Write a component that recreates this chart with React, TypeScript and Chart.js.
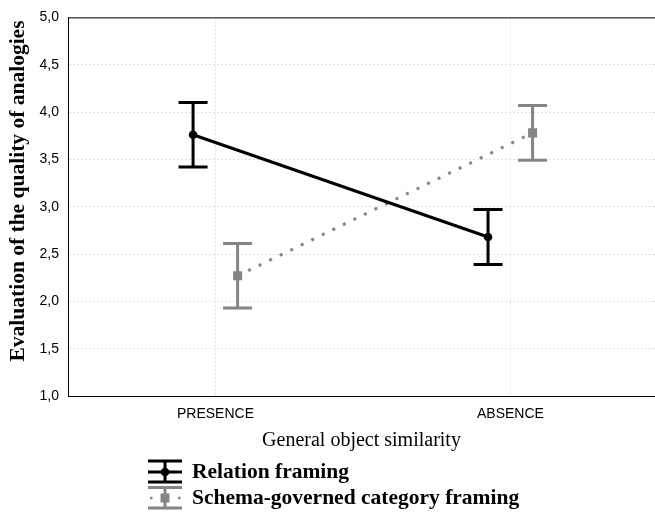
import { useEffect, useRef } from 'react';
import { Chart, registerables } from 'chart.js';

Chart.register(...registerables);

const categories = ['PRESENCE', 'ABSENCE'];
const seriesNames = ['Relation framing', 'Schema-governed category framing'];
const relationMean = [3.76, 2.68];
const relationLow = [3.42, 2.39];
const relationHigh = [4.1, 2.97];
const schemaMean = [2.27, 3.78];
const schemaLow = [1.93, 3.49];
const schemaHigh = [2.61, 4.07];
const seriesOffset = [-0.076, 0.075];
const xTitle = 'General object similarity';
const yTitle = 'Evaluation of the quality of analogies';

const BLACK = '#000000';
const GRAY = '#858585';
const GRID = 'rgba(0,0,0,0.12)';
const SERIF = '"Liberation Serif", "Times New Roman", serif';
const SANS = '"Liberation Sans", Arial, sans-serif';

const means = [relationMean, schemaMean];
const lows = [relationLow, schemaLow];
const highs = [relationHigh, schemaHigh];
const colors = [BLACK, GRAY];

const errorBarPlugin = {
  id: 'errorBars',
  beforeDatasetsDraw(chart: any) {
    const ctx = chart.ctx;
    const xs = chart.scales.x;
    const ys = chart.scales.y;
    ctx.save();
    means.forEach((_m, s) => {
      ctx.strokeStyle = colors[s];
      ctx.lineWidth = 3;
      categories.forEach((_c, i) => {
        const px = xs.getPixelForValue(i + seriesOffset[s]);
        const top = ys.getPixelForValue(highs[s][i]);
        const bot = ys.getPixelForValue(lows[s][i]);
        ctx.beginPath();
        ctx.moveTo(px, top);
        ctx.lineTo(px, bot);
        ctx.moveTo(px - 14.5, top);
        ctx.lineTo(px + 14.5, top);
        ctx.moveTo(px - 14.5, bot);
        ctx.lineTo(px + 14.5, bot);
        ctx.stroke();
      });
    });
    ctx.restore();
  },
  afterDraw(chart: any) {
    const ctx = chart.ctx;
    const area = chart.chartArea;
    ctx.save();
    // top frame line
    ctx.strokeStyle = BLACK;
    ctx.lineWidth = 1;
    ctx.beginPath();
    ctx.moveTo(area.left, area.top + 0.5);
    ctx.lineTo(area.right, area.top + 0.5);
    ctx.stroke();

    // y title
    ctx.fillStyle = BLACK;
    ctx.font = 'bold 21.5px ' + SERIF;
    ctx.textAlign = 'center';
    ctx.textBaseline = 'middle';
    ctx.save();
    ctx.translate(18, 191);
    ctx.rotate(-Math.PI / 2);
    ctx.fillText(yTitle, 0, 0);
    ctx.restore();

    // x title
    ctx.font = '20px ' + SERIF;
    ctx.fillText(xTitle, (area.left + area.right) / 2, 441);

    // legend
    const ix = 165;
    const rows = [
      { y: 472, top: 461, bot: 482 },
      { y: 498, top: 487.5, bot: 508 },
    ];
    rows.forEach((r, s) => {
      ctx.strokeStyle = colors[s];
      ctx.fillStyle = colors[s];
      ctx.lineWidth = 3;
      ctx.beginPath();
      ctx.moveTo(148, r.top);
      ctx.lineTo(182, r.top);
      ctx.moveTo(148, r.bot);
      ctx.lineTo(182, r.bot);
      ctx.moveTo(ix, r.top);
      ctx.lineTo(ix, r.bot);
      ctx.stroke();
      if (s === 0) {
        ctx.beginPath();
        ctx.moveTo(148, r.y);
        ctx.lineTo(182, r.y);
        ctx.stroke();
        ctx.beginPath();
        ctx.arc(ix, r.y, 4.3, 0, Math.PI * 2);
        ctx.fill();
      } else {
        ctx.fillRect(150, r.y - 1.2, 2.5, 2.5);
        ctx.fillRect(178, r.y - 1.2, 2.5, 2.5);
        ctx.fillRect(ix - 4.5, r.y - 4.5, 9, 9);
      }
      ctx.fillStyle = BLACK;
      ctx.font = 'bold 21.5px ' + SERIF;
      ctx.textAlign = 'left';
      ctx.textBaseline = 'middle';
      ctx.fillText(seriesNames[s], 192, r.y);
    });
    ctx.restore();
  },
};

export default function App() {
  const ref = useRef<HTMLCanvasElement | null>(null);
  useEffect(() => {
    if (!ref.current) return;
    const chart = new Chart(ref.current, {
      type: 'line',
      data: {
        datasets: [
          {
            label: seriesNames[0],
            data: relationMean.map((v, i) => ({ x: i + seriesOffset[0], y: v })),
            borderColor: BLACK,
            backgroundColor: BLACK,
            borderWidth: 3,
            pointStyle: 'circle',
            pointRadius: 4.3,
            pointBorderWidth: 0,
          },
          {
            label: seriesNames[1],
            data: schemaMean.map((v, i) => ({ x: i + seriesOffset[1], y: v })),
            borderColor: GRAY,
            backgroundColor: GRAY,
            borderWidth: 3,
            borderDash: [3, 8.7],
            pointStyle: 'rect',
            pointRadius: 6.4,
            pointBorderWidth: 0,
          },
        ],
      },
      plugins: [errorBarPlugin],
      options: {
        animation: false,
        responsive: false,
        layout: { padding: { top: 15, left: 0, right: 0, bottom: 0 }, autoPadding: false } as any,
        plugins: { legend: { display: false }, tooltip: { enabled: false } },
        scales: {
          x: {
            type: 'linear',
            min: -0.5,
            max: 1.49,
            afterBuildTicks: (scale: any) => {
              scale.ticks = categories.map((_c, i) => ({ value: i }));
            },
            afterFit: (scale: any) => {
              scale.height = 116;
            },
            ticks: {
              callback: (v: any) => categories[v] ?? '',
              font: { family: SANS, size: 14 },
              color: '#000',
              padding: 10,
              maxRotation: 0,
              autoSkip: false,
            },
            grid: { color: GRID, drawTicks: false, lineWidth: 1 },
            border: { display: true, color: BLACK, width: 1, dash: [2, 2] },
          },
          y: {
            type: 'linear',
            min: 1,
            max: 5,
            afterFit: (scale: any) => {
              scale.width = 68;
            },
            ticks: {
              stepSize: 0.5,
              callback: (v: any) => Number(v).toFixed(1).replace('.', ','),
              font: { family: SANS, size: 14 },
              color: '#000',
              padding: 9,
            },
            grid: { color: GRID, drawTicks: false, lineWidth: 1 },
            border: { display: true, color: BLACK, width: 1, dash: [2, 2] },
          },
        },
      },
    });
    return () => chart.destroy();
  }, []);
  return (
    <div style={{ position: 'fixed', left: 0, top: 0, width: 655, height: 512 }}>
      <canvas ref={ref} width={655} height={512} style={{ width: 655, height: 512 }} />
    </div>
  );
}
